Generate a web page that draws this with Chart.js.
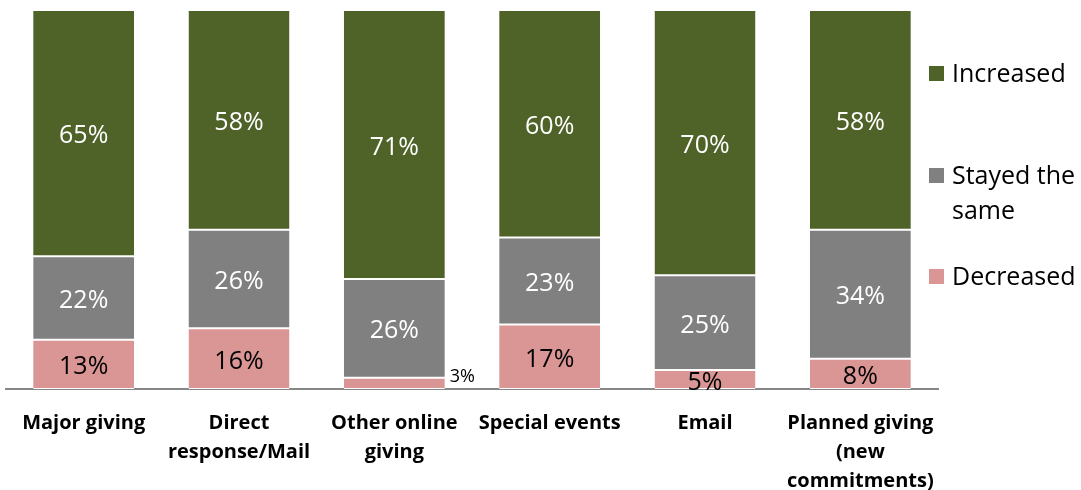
<!DOCTYPE html>
<html>
<head>
<meta charset="utf-8">
<script src="https://cdn.jsdelivr.net/npm/chart.js@4"></script>
<style>
  html, body { margin: 0; padding: 0; background: #fff; }
  #wrap { width: 1081px; height: 490px; }
</style>
</head>
<body>
<div id="wrap"><canvas id="chart"></canvas></div>
<script>
const categories = [
    'Major giving',
    ['Direct', 'response/Mail'],
    ['Other online', 'giving'],
    'Special events',
    'Email',
    ['Planned giving', '(new', 'commitments)'],
];
const decreased = [13, 16, 3, 17, 5, 8];
const stayedSame = [22, 26, 26, 23, 25, 34];
const increased = [65, 58, 71, 60, 70, 58];
const seriesNames = ['Decreased', ['Stayed the', 'same'], 'Increased'];

const COLORS = {
    decreased: '#d99694',
    stayed: '#808080',
    increased: '#4f6228',
};
const FONT = "'Open Sans', 'Noto Sans', sans-serif";

// values inside the segments, small ones pushed to the right of the bar
const segmentLabels = {
    id: 'segmentLabels',
    afterDatasetsDraw(chart) {
        const ctx = chart.ctx;
        ctx.save();
        chart.data.datasets.forEach((ds, di) => {
            const meta = chart.getDatasetMeta(di);
            meta.data.forEach((bar, i) => {
                const v = ds.data[i];
                const top = Math.min(bar.y, bar.base);
                const bottom = Math.max(bar.y, bar.base);
                const mid = (top + bottom) / 2;
                ctx.fillStyle = ds.labelColor;
                ctx.textBaseline = 'middle';
                if (v < 4) {
                    ctx.font = `18px ${FONT}`;
                    ctx.fillStyle = '#000';
                    ctx.textAlign = 'left';
                    ctx.fillText(v + '%', bar.x + bar.width / 2 + 5, mid - 6);
                } else {
                    ctx.font = `25px ${FONT}`;
                    ctx.textAlign = 'center';
                    ctx.fillText(v + '%', bar.x, mid + 3);
                }
            });
        });
        ctx.restore();
    },
};

// legend on the right, top entry is the top segment
const sideLegend = {
    id: 'sideLegend',
    afterDraw(chart) {
        const ctx = chart.ctx;
        const x = chart.chartArea.right - 9;
        const rows = [
            { name: seriesNames[2], color: COLORS.increased, y: 74 },
            { name: seriesNames[1], color: COLORS.stayed, y: 176 },
            { name: seriesNames[0], color: COLORS.decreased, y: 277 },
        ];
        ctx.save();
        ctx.font = `25px ${FONT}`;
        ctx.textAlign = 'left';
        ctx.textBaseline = 'middle';
        rows.forEach((r) => {
            ctx.fillStyle = r.color;
            ctx.fillRect(x, r.y - 8, 15, 15);
            ctx.fillStyle = '#000';
            const lines = Array.isArray(r.name) ? r.name : [r.name];
            lines.forEach((line, li) => ctx.fillText(line, x + 23, r.y + 1 + li * 35));
        });
        ctx.restore();
    },
};

const segBorder = { top: 1, bottom: 1, left: 0, right: 0 };

new Chart(document.getElementById('chart'), {
    type: 'bar',
    data: {
        labels: categories,
        datasets: [
            { label: 'Decreased', data: decreased, backgroundColor: COLORS.decreased, labelColor: '#000' },
            { label: 'Stayed the same', data: stayedSame, backgroundColor: COLORS.stayed, labelColor: '#fff' },
            { label: 'Increased', data: increased, backgroundColor: COLORS.increased, labelColor: '#fff' },
        ].map((d) => ({
            ...d,
            borderColor: '#fff',
            borderWidth: segBorder,
            borderSkipped: false,
            categoryPercentage: 1,
            barPercentage: 0.65,
        })),
    },
    options: {
        responsive: true,
        maintainAspectRatio: false,
        animation: false,
        layout: { padding: { left: 6, right: 143, top: 10, bottom: 0 } },
        plugins: {
            legend: { display: false },
            tooltip: { enabled: false },
        },
        scales: {
            x: {
                stacked: true,
                grid: { display: false, drawTicks: false },
                border: { color: '#868686', width: 2 },
                afterFit: (scale) => { scale.height = 101; },
                ticks: {
                    color: '#000',
                    padding: 20,
                    maxRotation: 0,
                    autoSkip: false,
                    font: { family: FONT, size: 20, weight: 'bold', lineHeight: 1.45 },
                },
            },
            y: {
                stacked: true,
                display: false,
                min: 0,
                max: 100,
            },
        },
    },
    plugins: [segmentLabels, sideLegend],
});
</script>
</body>
</html>
